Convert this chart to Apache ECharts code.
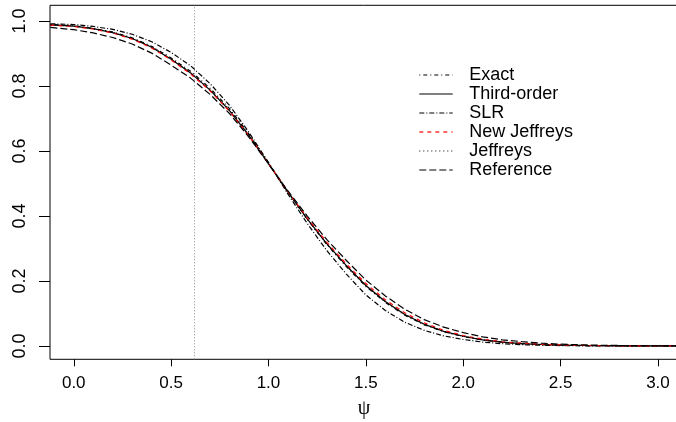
<!DOCTYPE html>
<html>
<head>
<meta charset="utf-8">
<script src="https://cdn.jsdelivr.net/npm/echarts@6/dist/echarts.min.js"></script>
<style>html,body{margin:0;padding:0;background:#fff;}#c{width:676px;height:422px;}</style>
</head>
<body>
<div id="c"></div>
<script>
const psi = [-0.12, 0.0, 0.1, 0.2, 0.3, 0.4, 0.5, 0.6, 0.7, 0.8, 0.9, 1.0, 1.1, 1.2, 1.3, 1.4, 1.5, 1.6, 1.7, 1.8, 1.9, 2.0, 2.1, 2.2, 2.3, 2.4, 2.5, 2.6, 2.7, 2.8, 2.9, 3.0, 3.1];
const exact = [0.989, 0.985, 0.977, 0.966, 0.948, 0.922, 0.886, 0.845, 0.793, 0.730, 0.652, 0.564, 0.474, 0.389, 0.312, 0.244, 0.183, 0.134, 0.095, 0.065, 0.044, 0.029, 0.018, 0.0115, 0.0072, 0.0043, 0.0026, 0.0015, 0.0009, 0.0005, 0.0003, 0.0002, 0.0001];
const thirdOrder = [0.988, 0.984, 0.976, 0.964, 0.946, 0.919, 0.882, 0.840, 0.787, 0.724, 0.647, 0.561, 0.473, 0.390, 0.314, 0.247, 0.186, 0.137, 0.097, 0.067, 0.045, 0.030, 0.019, 0.012, 0.0075, 0.0045, 0.0027, 0.0016, 0.0009, 0.0005, 0.0003, 0.0002, 0.0001];
const slr = [0.991, 0.989, 0.983, 0.974, 0.959, 0.936, 0.903, 0.862, 0.807, 0.740, 0.657, 0.564, 0.467, 0.376, 0.293, 0.221, 0.157, 0.109, 0.073, 0.048, 0.031, 0.020, 0.012, 0.007, 0.004, 0.0022, 0.0012, 0.0006, 0.0003, 0.0002, 0.0001, 0.0001, 0.0];
const newJeffreys = [0.987, 0.983, 0.975, 0.963, 0.944, 0.917, 0.880, 0.837, 0.785, 0.722, 0.646, 0.561, 0.475, 0.393, 0.319, 0.252, 0.192, 0.142, 0.102, 0.071, 0.048, 0.032, 0.021, 0.013, 0.0085, 0.0052, 0.0032, 0.0019, 0.0011, 0.0006, 0.0004, 0.0002, 0.0001];
const jeffreys = [0.988, 0.984, 0.976, 0.964, 0.946, 0.920, 0.883, 0.841, 0.788, 0.725, 0.648, 0.561, 0.472, 0.389, 0.313, 0.246, 0.185, 0.136, 0.097, 0.067, 0.045, 0.030, 0.019, 0.012, 0.0075, 0.0045, 0.0027, 0.0016, 0.0009, 0.0005, 0.0003, 0.0002, 0.0001];
const reference = [0.980, 0.973, 0.963, 0.949, 0.929, 0.901, 0.864, 0.824, 0.774, 0.715, 0.642, 0.560, 0.477, 0.399, 0.327, 0.263, 0.203, 0.154, 0.113, 0.081, 0.058, 0.041, 0.028, 0.019, 0.0135, 0.0085, 0.0057, 0.0036, 0.0023, 0.0015, 0.001, 0.0006, 0.0004];
const xTicks = [0.0, 0.5, 1.0, 1.5, 2.0, 2.5, 3.0];
const yTicks = [0.0, 0.2, 0.4, 0.6, 0.8, 1.0];
const markerPsi = 0.62;
const seriesNames = ['Exact', 'Third-order', 'SLR', 'New Jeffreys', 'Jeffreys', 'Reference'];

const pairs = v => psi.map((x, i) => [x, v[i]]);
const styles = [
  {color: '#000', type: [1, 3, 4, 3]},
  {color: '#000', type: 'solid'},
  {color: '#000', type: [5, 2, 1, 2]},
  {color: '#ff0000', type: [4, 4]},
  {color: '#000', type: [1, 3]},
  {color: '#000', type: [7, 3]}
];
const values = [exact, thirdOrder, slr, newJeffreys, jeffreys, reference];

const series = values.map((v, i) => ({
  name: seriesNames[i],
  type: 'line',
  data: pairs(v),
  symbol: 'none',
  smooth: false,
  color: styles[i].color,
  lineStyle: {color: styles[i].color, width: 1.2, type: styles[i].type},
  z: 3 + i
}));
series[0].markLine = {
  silent: true, symbol: 'none', label: {show: false},
  lineStyle: {color: '#8c8c8c', width: 1, type: [1, 2]},
  data: [{xAxis: markerPsi}]
};

// legend drawn as graphic elements (R-style legend without frame)
const legendX0 = 419.3, legendX1 = 452.7, legendTextX = 469.3, legendY0 = 75, legendStep = 19;
const legendGraphics = [];
seriesNames.forEach((name, i) => {
  const y = legendY0 + i * legendStep;
  legendGraphics.push({
    type: 'line', silent: true,
    shape: {x1: legendX0, y1: y, x2: legendX1, y2: y},
    style: {stroke: styles[i].color, lineWidth: 1.2, lineDash: styles[i].type === 'solid' ? null : styles[i].type}
  });
  legendGraphics.push({
    type: 'text', silent: true, x: legendTextX, y: y,
    style: {text: name, fill: '#000', font: '18px "Liberation Sans", Arial, sans-serif', textVerticalAlign: 'middle', textAlign: 'left'}
  });
});

const chart = echarts.init(document.getElementById('c'), null, {renderer: 'canvas'});
chart.setOption({
  animation: false,
  backgroundColor: '#fff',
  grid: {left: 50, right: -2, top: 5.3, bottom: 62.7, outerBoundsMode: 'none', containLabel: false, show: true, borderColor: '#000', borderWidth: 1, backgroundColor: 'transparent'},
  graphic: legendGraphics,
  xAxis: {
    type: 'value', min: -0.122, max: 3.103,
    name: 'ψ', nameLocation: 'middle', nameGap: 39,
    nameTextStyle: {fontFamily: 'Liberation Serif, serif', fontSize: 20, color: '#000', verticalAlign: 'top'},
    axisLine: {show: false, onZero: false},
    splitLine: {show: false},
    axisTick: {show: true, length: 7, lineStyle: {color: '#000'}, customValues: xTicks},
    axisLabel: {customValues: xTicks, formatter: v => v.toFixed(1), margin: 16, fontFamily: 'Liberation Sans, Arial, sans-serif', fontSize: 17, color: '#000'}
  },
  yAxis: {
    type: 'value', min: -0.041, max: 1.048,
    axisLine: {show: false, onZero: false},
    splitLine: {show: false},
    axisTick: {show: true, length: 11, lineStyle: {color: '#000'}, customValues: yTicks},
    axisLabel: {customValues: yTicks, rotate: 90, formatter: v => v.toFixed(1), margin: 21, fontFamily: 'Liberation Sans, Arial, sans-serif', fontSize: 18, color: '#000', align: 'center', verticalAlign: 'bottom'}
  },
  series: series
});
</script>
</body>
</html>
